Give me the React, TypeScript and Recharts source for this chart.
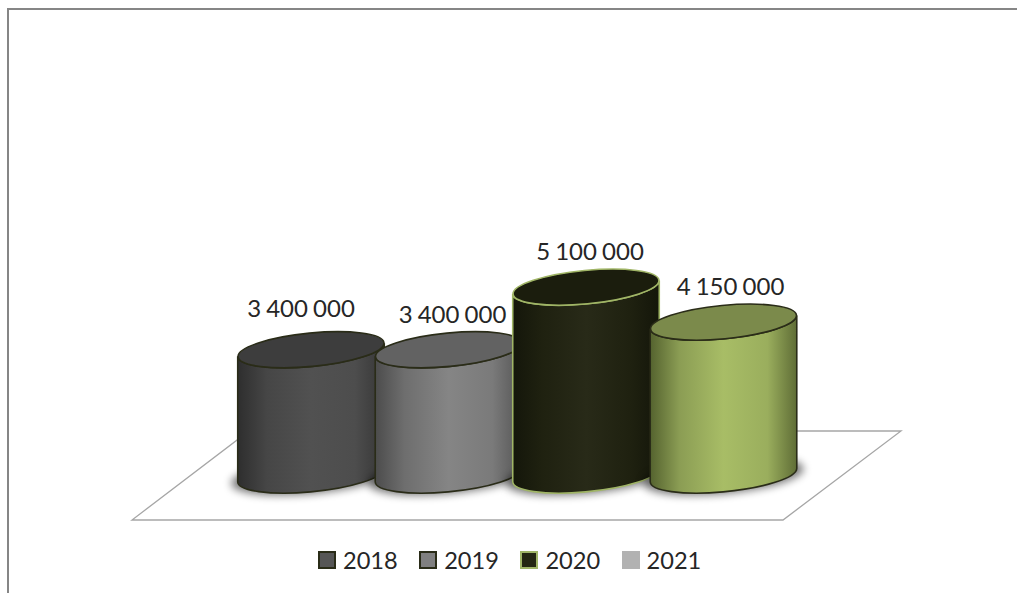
import { Bar, BarChart, LabelList, XAxis, YAxis } from "recharts";

const years = ["2018", "2019", "2020", "2021"];
const amounts = [3400000, 3400000, 5100000, 4150000];

const tableData = years.map((year, i) => ({ year, amount: amounts[i] }));

const FONT = "Lato, 'Open Sans', sans-serif";
const TEXT = "#262626";
const TILT = -5.5;
const ELLIPSE_RY = 16.7;
const SIDE_DY = 6.6;

type CylinderStyle = {
  stops: string[];
  top: string;
  stroke: string;
  swatch: string;
  swatchBorder: string;
};

const cylinderStyles: CylinderStyle[] = [
  {
    stops: ["#2e2e2e", "#464646", "#515151", "#4d4d4d", "#363636"],
    top: "#3d3d3d",
    stroke: "#2a2c18",
    swatch: "#565656",
    swatchBorder: "#2a2c18",
  },
  {
    stops: ["#4c4c4c", "#6e6e6e", "#858585", "#7a7a7a", "#555555"],
    top: "#626262",
    stroke: "#2a2c18",
    swatch: "#808080",
    swatchBorder: "#2a2c18",
  },
  {
    stops: ["#14160a", "#1f2110", "#282a18", "#1f2110", "#14160a"],
    top: "#1b1d0d",
    stroke: "#a0b566",
    swatch: "#252712",
    swatchBorder: "#a0b566",
  },
  {
    stops: ["#55632f", "#8b9d54", "#a8bd66", "#9aae5d", "#5f6d36"],
    top: "#7b8a4b",
    stroke: "#2a2c18",
    swatch: "#b2b2b2",
    swatchBorder: "#b2b2b2",
  },
];

// small nudge per data label, the labels are not quite centred
const labelShift = [
  { dx: -10, dy: -6 },
  { dx: 4, dy: 0 },
  { dx: 4, dy: 0 },
  { dx: 7, dy: 0 },
];

const formatAmount = (v: number) =>
  String(v).replace(/\B(?=(\d{3})+(?!\d))/g, " ");

function Cylinder(props: any) {
  const { x, y, width, height, index } = props;
  const style = cylinderStyles[index];
  const cx = x + width / 2;
  const rx = width * 0.531;
  const left = cx - rx;
  const right = cx + rx;
  const bottom = y + height;
  const side = [
    `M${left},${y + SIDE_DY}`,
    `L${left},${bottom + SIDE_DY}`,
    `A${rx},${ELLIPSE_RY} ${TILT} 0 0 ${right},${bottom - SIDE_DY}`,
    `L${right},${y - SIDE_DY}`,
    `A${rx},${ELLIPSE_RY} ${TILT} 0 1 ${left},${y + SIDE_DY}`,
    "Z",
  ].join(" ");

  return (
    <g>
      {/* soft floor shadow */}
      <ellipse
        cx={cx}
        cy={bottom + 1}
        rx={rx + 7}
        ry={ELLIPSE_RY + 1}
        fill="#000"
        opacity={0.55}
        filter="url(#floorShadow)"
        transform={`rotate(${TILT} ${cx} ${bottom})`}
      />
      <path
        d={side}
        fill={`url(#side${index})`}
        stroke={style.stroke}
        strokeWidth={1.6}
      />
      <ellipse
        cx={cx}
        cy={y}
        rx={rx}
        ry={ELLIPSE_RY}
        fill={style.top}
        stroke={style.stroke}
        strokeWidth={1.6}
        transform={`rotate(${TILT} ${cx} ${y})`}
      />
    </g>
  );
}

function AmountLabel(props: any) {
  const { x, y, width, value, index } = props;
  const shift = labelShift[index];
  return (
    <text
      x={x + width / 2 + shift.dx}
      y={y - 33 + shift.dy}
      textAnchor="middle"
      dominantBaseline="middle"
      fontFamily={FONT}
      fontSize={24}
      wordSpacing={-1}
      fill={TEXT}
    >
      {formatAmount(value)}
    </text>
  );
}

export default function App() {
  return (
    <div
      style={{
        position: "absolute",
        left: 0,
        top: 0,
        width: 1017,
        height: 593,
        background: "#fff",
        overflow: "hidden",
      }}
    >
      {/* chart frame and the floor plane */}
      <svg
        width={1017}
        height={593}
        style={{ position: "absolute", left: 0, top: 0 }}
      >
        <path
          d="M8,593 L8,9 L1017,9"
          fill="none"
          stroke="#868686"
          strokeWidth={2}
        />
        <polygon
          points="132,520 783,520 901,431 249,431"
          fill="#fff"
          stroke="#a6a6a6"
          strokeWidth={1.3}
        />
      </svg>

      <div style={{ position: "absolute", left: 0, top: 0 }}>
        <BarChart
          width={1017}
          height={593}
          data={tableData}
          barCategoryGap={0}
          margin={{ top: 33, right: 225, bottom: 118, left: 242 }}
        >
          <defs>
            {cylinderStyles.map((s, i) => (
              <linearGradient key={i} id={`side${i}`} x1="0" y1="0" x2="1" y2="0">
                {s.stops.map((c, j) => (
                  <stop key={j} offset={[0, 0.2, 0.5, 0.8, 1][j]} stopColor={c} />
                ))}
              </linearGradient>
            ))}
            <filter id="floorShadow" x="-20%" y="-50%" width="140%" height="200%">
              <feGaussianBlur stdDeviation="4" />
            </filter>
          </defs>
          <XAxis dataKey="year" hide />
          <YAxis hide domain={[0, 12000000]} />
          <Bar dataKey="amount" shape={Cylinder} isAnimationActive={false}>
            <LabelList dataKey="amount" content={AmountLabel} />
          </Bar>
        </BarChart>
      </div>

      {/* legend */}
      <div
        style={{
          position: "absolute",
          left: 318,
          top: 545,
          height: 30,
          display: "flex",
          alignItems: "center",
          fontFamily: FONT,
          fontSize: 23.6,
          color: TEXT,
        }}
      >
        {years.map((year, i) => (
          <div
            key={year}
            style={{ width: 101.2, flex: "none", display: "flex", alignItems: "center" }}
          >
            <span
              style={{
                boxSizing: "border-box",
                flex: "none",
                width: 18,
                height: 18,
                marginRight: 7,
                background: cylinderStyles[i].swatch,
                border: `2px solid ${cylinderStyles[i].swatchBorder}`,
              }}
            />
            {year}
          </div>
        ))}
      </div>
    </div>
  );
}
